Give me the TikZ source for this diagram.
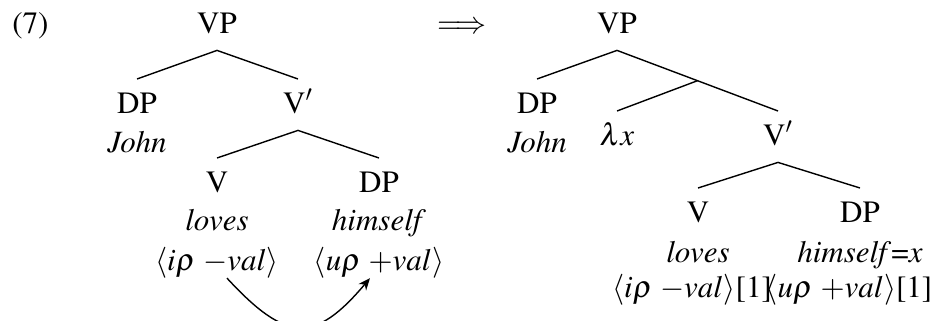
\documentclass[tikz,border=0pt]{standalone}
\usepackage[T1]{fontenc}
\usepackage{mathptmx}
\usetikzlibrary{calc,arrows.meta}

\begin{document}
\begin{tikzpicture}[x=0.5pt,y=-0.5pt,
    every node/.style={inner sep=0pt,anchor=base,font=\fontsize{15.5}{18}\selectfont},
    cat/.style={inner xsep=0pt,inner ysep=6.5pt,text height=10.3pt,text depth=2pt},
    branch/.style={line width=0.7pt},
    link/.style={line width=0.7pt,-{Stealth[length=6pt,width=5pt]}}]
    \useasboundingbox (0,0) rectangle (942,321); % 画布大小
    \node (num) at (12,33) [anchor=base west] {(7)}; % 例句编号
    \node (imp) at (462,33) {$\Longrightarrow$}; % 中间的箭头

    % 左边的树
    \node[cat] (vpL) at (217,33) {VP};
    \node[cat] (dpL) at (137,113) {DP};
    \node (johnL) at (137,152) {\textit{John}};
    \node[cat] (vbarL) at (298,113) {V$'$};
    \node[cat] (vL) at (217,192) {V};
    \node (lovesL) at (217,230) {\textit{loves}};
    \node (featL) at (217,270) {$\langle i\rho\ {-}val\rangle$};
    \node[cat] (objL) at (379,192) {DP};
    \node (himL) at (379,230) {\textit{himself}};
    \node (featR) at (379,270) {$\langle u\rho\ {+}val\rangle$};
    \draw[branch] (vpL.south) -- (dpL.north);
    \draw[branch] (vpL.south) -- (vbarL.north);
    \draw[branch] (vbarL.south) -- (vL.north);
    \draw[branch] (vbarL.south) -- (objL.north);
    \draw[link] ([xshift=5pt]featL.south) .. controls +(60,65) and +(-55,65) .. ([xshift=-4.5pt]featR.south); % 一致关系

    % 右边的树
    \node[cat] (vpR) at (617,33) {VP};
    \node[cat] (dpR) at (537,113) {DP};
    \node (johnR) at (537,152) {\textit{John}};
    \node[cat] (lam) at (617,145) {$\lambda x$};
    \node[cat] (vbarR) at (778,145) {V$'$};
    \node[cat] (vR) at (698,222) {V};
    \node (lovesR) at (698,262) {\textit{loves}};
    \node (featL2) at (692,297) {$\langle i\rho\ {-}val\rangle$[1]};
    \node[cat] (objR) at (860,222) {DP};
    \node (himR) at (860,262) {\textit{himself}=\textit{x}};
    \node (featR2) at (849,297) {$\langle u\rho\ {+}val\rangle$[1]};
    \coordinate (mid) at ($(vpR.south)!0.5!(vbarR.north)$); % λx 的分叉点
    \draw[branch] (vpR.south) -- (dpR.north);
    \draw[branch] (vpR.south) -- (vbarR.north);
    \draw[branch] (mid) -- (lam.north);
    \draw[branch] (vbarR.south) -- (vR.north);
    \draw[branch] (vbarR.south) -- (objR.north);
\end{tikzpicture}
\end{document}
